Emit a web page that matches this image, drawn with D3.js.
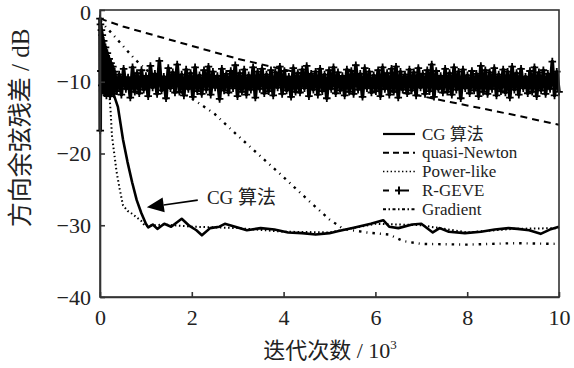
<!DOCTYPE html>
<html>
<head>
<meta charset="utf-8">
<script src="https://cdn.jsdelivr.net/npm/d3@7"></script>
<style>
  body { margin: 0; background: #fff; }
</style>
</head>
<body>
<svg id="chart" width="574" height="368" font-family="Liberation Serif, Times New Roman, serif"></svg>
<script>
// tick values
const xTicks = [0, 2, 4, 6, 8, 10];
const yTicks = [0, -10, -20, -30, -40];

// CG 算法
const cgX = [0, 0.05, 0.1, 0.15, 0.2, 0.3, 0.39, 0.5, 0.6, 0.7, 0.8, 0.9, 1.0, 1.05, 1.15, 1.25, 1.4, 1.55, 1.78, 1.95, 2.1, 2.22, 2.4, 2.6, 2.72, 3.0, 3.2, 3.5, 3.8, 4.1, 4.4, 4.7, 5.0, 5.2, 5.55, 5.9, 6.17, 6.3, 6.5, 6.8, 7.0, 7.25, 7.4, 7.6, 7.95, 8.3, 8.6, 8.9, 9.1, 9.35, 9.6, 9.8, 10];
const cgY = [-1.0, -3.5, -6.5, -8.5, -10, -11.8, -13.5, -18, -21.2, -24, -26.5, -28.3, -29.8, -30.3, -29.9, -30.5, -29.8, -30.2, -29.1, -30.1, -30.7, -31.4, -30.4, -30.2, -29.8, -30.3, -30.7, -30.4, -30.6, -31.0, -31.1, -31.3, -31.1, -30.8, -30.3, -29.8, -29.3, -30.2, -30.4, -29.9, -29.8, -31.0, -30.4, -30.9, -31.1, -30.9, -30.6, -30.4, -30.5, -30.7, -31.2, -30.6, -30.2];

// quasi-Newton
const qnX = [0, 0.5, 1, 2, 3, 4, 5, 6, 7, 8, 9, 10];
const qnY = [-1.2, -2.3, -3.2, -5.0, -6.8, -8.3, -9.6, -10.8, -12.0, -13.3, -14.6, -16.0];

// Power-like
const plX = [0, 0.05, 0.1, 0.15, 0.2, 0.23, 0.26, 0.3, 0.36, 0.43, 0.5, 0.6, 0.7, 0.8, 0.9, 0.98, 1.4, 2, 3, 4, 5, 6, 7, 8, 9, 10];
const plY = [-1.0, -3.5, -6.5, -9, -11.5, -14, -17.5, -19.5, -22.5, -25, -27.2, -28, -28.4, -28.9, -29.4, -30.1, -29.9, -30.2, -30.4, -30.9, -31.0, -29.8, -30.0, -31.0, -30.5, -30.4];

// Gradient
const grX = [0, 0.25, 0.5, 0.75, 1, 1.5, 2, 2.5, 3, 3.5, 4, 4.5, 5, 5.3, 5.8, 6.3, 6.6, 7, 8, 9, 10];
const grY = [-1.5, -3.2, -5, -6.8, -8.3, -10.5, -12.3, -14.5, -17.5, -20.4, -23.3, -26.3, -29.2, -30.5, -31.0, -31.3, -32.2, -32.6, -32.7, -32.5, -32.6];

// R-GEVE, first iterations
const rgStartX = [0, 0.005, 0.01, 0.02, 0.03, 0.04, 0.05, 0.06, 0.08, 0.1, 0.12, 0.14, 0.16, 0.18, 0.2, 0.22, 0.24, 0.26, 0.28, 0.3];
const rgStartY = [-1.2, -16.8, -2.0, -8.5, -2.8, -10.5, -3.5, -11.2, -4.3, -11.6, -5.2, -11.9, -6.0, -11.5, -6.8, -12.0, -7.4, -11.4, -7.9, -11.7];
// R-GEVE, 0.32k .. 10k, evenly sampled
const rgFrom = 0.32, rgTo = 10;
const rgY = [
  -8.6, -11.3, -9.0, -11.8, -8.2, -11.0, -9.4, -12.2, -8.0, -11.4,
  -8.8, -11.6, -8.4, -11.1, -9.2, -12.0, -7.8, -10.8, -8.9, -11.7,
  -7.1, -11.2, -9.3, -12.3, -8.1, -10.9, -8.7, -11.5, -7.6, -11.4,
  -9.0, -11.9, -8.3, -11.0, -8.8, -12.1, -8.0, -11.3, -9.1, -11.7,
  -8.4, -11.1, -7.9, -11.8, -8.6, -10.8, -9.2, -12.4, -8.2, -11.2,
  -8.9, -11.5, -8.5, -10.9, -7.7, -12.0, -8.8, -11.4, -8.3, -11.8,
  -9.1, -11.1, -8.0, -12.2, -8.6, -11.0, -8.2, -11.6, -9.0, -11.3,
  -8.4, -11.9, -8.7, -10.8, -7.9, -11.7, -8.5, -11.2, -9.3, -12.1,
  -8.1, -11.4, -8.8, -11.5, -8.3, -10.9, -7.8, -12.0, -8.9, -11.1,
  -8.6, -11.8, -8.2, -11.3, -9.0, -12.3, -8.4, -11.0, -8.0, -11.6,
  -8.7, -11.2, -9.2, -11.9, -8.3, -11.4, -8.5, -11.7, -7.7, -11.1,
  -8.9, -12.1, -8.1, -10.9, -8.6, -11.5, -9.1, -11.3, -8.4, -12.0,
  -8.0, -11.0, -8.8, -11.8, -8.2, -11.4, -7.9, -12.2, -8.6, -11.1,
  -9.0, -11.6, -8.3, -11.2, -8.7, -11.9, -8.1, -10.8, -8.9, -11.7,
  -8.4, -11.3, -7.6, -12.1, -8.5, -11.0, -9.2, -11.5, -8.2, -11.4,
  -8.8, -11.8, -8.0, -11.1, -8.6, -12.3, -8.3, -10.9, -9.1, -11.6,
  -8.5, -11.2, -8.9, -12.0, -7.8, -11.4, -8.4, -11.7, -8.7, -11.0,
  -8.1, -11.9, -9.0, -11.3, -8.3, -11.5, -8.6, -12.2, -7.9, -11.1,
  -8.8, -11.8, -8.2, -10.9, -9.3, -11.6, -8.5, -11.4, -8.0, -12.0,
  -8.7, -11.2, -8.4, -11.7, -8.9, -11.0, -7.2, -11.9, -8.6, -11.4
];

const legendNames = ["CG 算法", "quasi-Newton", "Power-like", "R-GEVE", "Gradient"];

const serif = "Liberation Serif, Times New Roman, serif";
const cjk = "Liberation Serif, Times New Roman, Noto Sans CJK SC, serif";
const ink = "#222";

const mLeft = 100, mRight = 559, mTop = 10, mBottom = 297;
const svg = d3.select("#chart");

const x = d3.scaleLinear().domain([0, 10]).range([mLeft, mRight]);
const y = d3.scaleLinear().domain([-40, 0]).range([mBottom, mTop]);

const line = d3.line().x(d => x(d[0])).y(d => y(d[1]));
const zip = (a, b) => a.map((v, i) => [v, b[i]]);

const plot = svg.append("g");

// quasi-Newton
plot.append("path").datum(zip(qnX, qnY))
  .attr("d", line).attr("fill", "none").attr("stroke", "#000")
  .attr("stroke-width", 2).attr("stroke-dasharray", "7,5");

// Gradient
plot.append("path").datum(zip(grX, grY))
  .attr("d", line).attr("fill", "none").attr("stroke", "#000")
  .attr("stroke-width", 2.4).attr("stroke-dasharray", "2.5,5,1,5");

// Power-like
plot.append("path").datum(zip(plX, plY))
  .attr("d", line).attr("fill", "none").attr("stroke", "#000")
  .attr("stroke-width", 2).attr("stroke-dasharray", "1.5,2.6");

// CG
plot.append("path").datum(zip(cgX, cgY))
  .attr("d", line).attr("fill", "none").attr("stroke", "#000")
  .attr("stroke-width", 2.6).attr("stroke-linejoin", "round");

// R-GEVE
const rgStep = d3.scaleLinear().domain([0, rgY.length - 1]).range([rgFrom, rgTo]);
const rgData = zip(rgStartX, rgStartY).concat(rgY.map((v, i) => [rgStep(i), v]));
plot.append("path").datum(rgData)
  .attr("d", line).attr("fill", "none").attr("stroke", "#000")
  .attr("stroke-width", 3.6).attr("stroke-linejoin", "round");
plot.selectAll(".rg").data(rgData).enter().append("path")
  .attr("transform", d => `translate(${x(d[0])},${y(d[1])})`)
  .attr("d", "M-3.8,0H3.8M0,-3.8V3.8")
  .attr("stroke", "#000").attr("stroke-width", 1.8);

// frame
svg.append("rect").attr("x", mLeft).attr("y", mTop)
  .attr("width", mRight - mLeft).attr("height", mBottom - mTop)
  .attr("fill", "none").attr("stroke", "#333").attr("stroke-width", 1.6);

// axes
const xAxis = svg.append("g").attr("transform", `translate(0,${mBottom})`)
  .call(d3.axisBottom(x).tickValues(xTicks).tickSizeInner(-5).tickSizeOuter(0).tickPadding(12));
const yAxis = svg.append("g").attr("transform", `translate(${mLeft},0)`)
  .call(d3.axisLeft(y).tickValues(yTicks).tickSizeInner(-5).tickSizeOuter(0).tickPadding(9));
[xAxis, yAxis].forEach(a => {
  a.attr("font-family", serif).attr("font-size", 22);
  a.select(".domain").attr("stroke", "#333").attr("stroke-width", 1.6);
  a.selectAll(".tick line").attr("stroke", "#333").attr("stroke-width", 1.6);
  a.selectAll(".tick text").attr("fill", ink);
});
yAxis.selectAll(".tick text").filter(d => d === 0).attr("dy", "0.45em");

// axis titles
const xt = svg.append("text").attr("x", 330).attr("y", 358)
  .attr("text-anchor", "middle").attr("font-family", cjk).attr("font-size", 22).attr("fill", ink);
xt.append("tspan").text("迭代次数 / 10");
xt.append("tspan").text("3").attr("dy", -9).attr("font-size", 13);

svg.append("text").attr("transform", "translate(29,128) rotate(-90)")
  .attr("text-anchor", "middle").attr("font-family", cjk).attr("font-size", 25).attr("fill", ink)
  .text("方向余弦残差 / dB");

// annotation arrow
const tip = [x(1.02), y(-27.5)], tail = [x(2.13), y(-26.5)];
const ang = Math.atan2(tail[1] - tip[1], tail[0] - tip[0]);
const hl = 17, hw = 7.5;
const bx = tip[0] + hl * Math.cos(ang), by = tip[1] + hl * Math.sin(ang);
svg.append("line").attr("x1", tail[0]).attr("y1", tail[1]).attr("x2", bx).attr("y2", by)
  .attr("stroke", "#000").attr("stroke-width", 1.6);
svg.append("path")
  .attr("d", `M${tip[0]},${tip[1]}L${bx - hw * Math.sin(ang)},${by + hw * Math.cos(ang)}L${bx + hw * Math.sin(ang)},${by - hw * Math.cos(ang)}Z`)
  .attr("fill", "#000");
svg.append("text").attr("x", x(2.33)).attr("y", y(-26.1)).attr("dy", "0.35em")
  .attr("font-family", cjk).attr("font-size", 19).attr("fill", ink).text("CG 算法");

// legend
const lg = svg.append("g");
const styles = [
  { dash: null, w: 2.2 },
  { dash: "6,4", w: 2 },
  { dash: "1.4,2.4", w: 1.5 },
  { dash: "6,14", w: 2 },
  { dash: "3,2.5,1.5,2.5", w: 2 }
];
legendNames.forEach((name, i) => {
  const ly = 134 + i * 18.8;
  lg.append("line").attr("x1", 383).attr("x2", 415).attr("y1", ly).attr("y2", ly)
    .attr("stroke", "#000").attr("stroke-width", styles[i].w)
    .attr("stroke-dasharray", styles[i].dash);
  if (name === "R-GEVE") {
    lg.append("path").attr("d", `M395,${ly}H403M399,${ly - 4}V${ly + 4}`)
      .attr("stroke", "#000").attr("stroke-width", 2);
  }
  lg.append("text").attr("x", 422).attr("y", ly).attr("dy", "0.33em")
    .attr("font-family", cjk).attr("font-size", 17).attr("fill", ink).text(name);
});
</script>
</body>
</html>
